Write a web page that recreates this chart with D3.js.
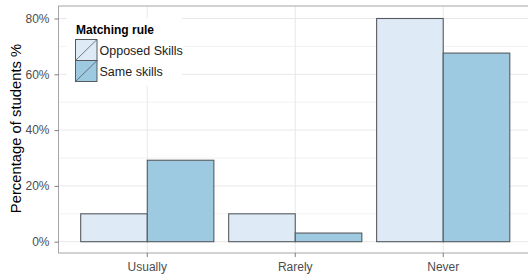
<!DOCTYPE html>
<html><head><meta charset="utf-8">
<script src="https://cdn.jsdelivr.net/npm/d3@7"></script>
<style>body{margin:0;background:#fff;}svg{display:block;font-family:"Liberation Sans",Arial,sans-serif;}</style>
</head><body>
<script>
const categories = ["Usually", "Rarely", "Never"];
const seriesNames = ["Opposed Skills", "Same skills"];
const opposed = [10, 10, 80];
const same = [29.2, 3.1, 67.6];
const yTicks = [0, 20, 40, 60, 80];
const yMinor = [10, 30, 50, 70];
const colors = ["#deebf7", "#9ecae1"];

(function () {
const W = 528, H = 277;
const svg = d3.select("body").append("svg").attr("width", W).attr("height", H);
const pL = 58.5, pR = 532, pT = 6, pB = 253;

const x = d3.scaleBand().domain(categories).range([pL, pR]).paddingOuter(0.1).paddingInner(0);
const y = d3.scaleLinear().domain([0, 80]).range([241.7, 18.5]);

const g = svg.append("g");
g.append("rect").attr("x", pL).attr("y", pT).attr("width", pR - pL).attr("height", pB - pT).attr("fill", "#fff");
g.selectAll(".minor").data(yMinor).join("line").attr("x1", pL).attr("x2", pR)
  .attr("y1", d => y(d)).attr("y2", d => y(d)).attr("stroke", "#f2f2f2").attr("stroke-width", 1);
g.selectAll(".major").data(yTicks).join("line").attr("x1", pL).attr("x2", pR)
  .attr("y1", d => y(d)).attr("y2", d => y(d)).attr("stroke", "#e8e8e8").attr("stroke-width", 1);
g.selectAll(".vmajor").data(categories).join("line")
  .attr("x1", d => x(d) + x.bandwidth() / 2).attr("x2", d => x(d) + x.bandwidth() / 2)
  .attr("y1", pT).attr("y2", pB).attr("stroke", "#e8e8e8").attr("stroke-width", 1);

const sub = d3.scaleBand().domain(seriesNames).range([0, x.bandwidth() * 0.9]);
const data = [];
categories.forEach((c, i) => {
  data.push({c, s: seriesNames[0], v: opposed[i]});
  data.push({c, s: seriesNames[1], v: same[i]});
});
g.selectAll(".bar").data(data).join("rect")
  .attr("x", d => x(d.c) + x.bandwidth() * 0.05 + sub(d.s))
  .attr("width", sub.bandwidth())
  .attr("y", d => y(d.v))
  .attr("height", d => y(0) - y(d.v))
  .attr("fill", d => colors[seriesNames.indexOf(d.s)])
  .attr("stroke", "#555a5f").attr("stroke-width", 1.1);

g.append("rect").attr("x", pL).attr("y", pT).attr("width", pR - pL).attr("height", pB - pT)
  .attr("fill", "none").attr("stroke", "#a6a6a6").attr("stroke-width", 1);

const ya = svg.append("g").attr("transform", `translate(${pL},0)`)
  .call(d3.axisLeft(y).tickValues(yTicks).tickFormat(d => d + "%").tickSize(4).tickPadding(5));
ya.select(".domain").remove();
ya.selectAll("line").attr("stroke", "#7f7f7f");
ya.selectAll("text").attr("fill", "#4d4d4d").attr("font-size", 12).attr("font-family", "Liberation Sans, Arial, sans-serif");

const xa = svg.append("g").attr("transform", `translate(0,${pB})`)
  .call(d3.axisBottom(x).tickSize(4).tickPadding(5));
xa.select(".domain").remove();
xa.selectAll("line").attr("stroke", "#7f7f7f");
xa.selectAll("text").attr("fill", "#4d4d4d").attr("font-size", 12).attr("font-family", "Liberation Sans, Arial, sans-serif");

svg.append("text").attr("transform", `translate(21,128.5) rotate(-90)`)
  .attr("text-anchor", "middle").attr("font-size", 14.8).attr("fill", "#000")
  .text("Percentage of students %");

const lg = svg.append("g");
lg.append("rect").attr("x", 67).attr("y", 18).attr("width", 115).attr("height", 68).attr("fill", "#fff");
lg.append("text").attr("x", 76).attr("y", 34).attr("font-size", 12).attr("font-weight", "bold").text("Matching rule");
seriesNames.forEach((s, i) => {
  const ky = 39.5 + i * 21;
  lg.append("rect").attr("x", 75.5).attr("y", ky).attr("width", 21.5).attr("height", 21)
    .attr("fill", colors[i]).attr("stroke", "#555a5f").attr("stroke-width", 1);
  lg.append("line").attr("x1", 75.5).attr("y1", ky + 21).attr("x2", 97).attr("y2", ky)
    .attr("stroke", "#555a5f").attr("stroke-width", 0.8);
  lg.append("text").attr("x", 99.5).attr("y", ky + 15).attr("font-size", 12.5).attr("fill", "#222").text(s);
});
})();
</script>
</body></html>
